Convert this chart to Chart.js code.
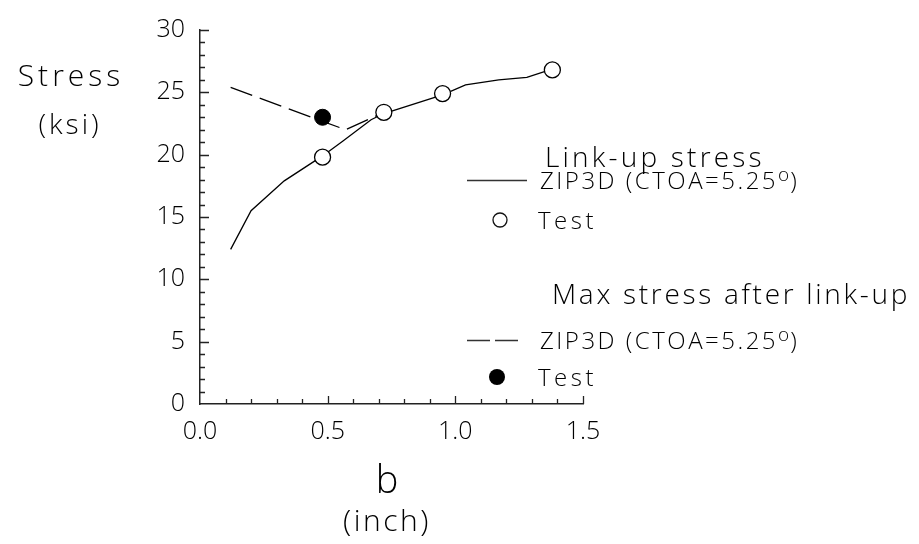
<!DOCTYPE html>
<html>
<head>
<meta charset="utf-8">
<script src="https://cdn.jsdelivr.net/npm/chart.js@4"></script>
<style>
html,body{margin:0;padding:0;background:#fff;}
#wrap{width:919px;height:544px;}
</style>
</head>
<body>
<div id="wrap"><canvas id="c" width="919" height="544"></canvas></div>
<script>
// ---- data ----
const zipLinkB      = [0.12, 0.20, 0.33, 0.48, 0.56, 0.67, 0.72, 0.95, 1.04, 1.17, 1.28, 1.40];
const zipLinkStress = [12.4, 15.5, 17.9, 19.9, 21.1, 22.8, 23.3, 24.8, 25.6, 26.0, 26.2, 27.0];
const testLinkB      = [0.48, 0.72, 0.95, 1.38];
const testLinkStress = [19.8, 23.4, 24.9, 26.8];
const zipMaxB      = [0.12, 0.33, 0.57, 0.70];
const zipMaxStress = [25.4, 23.8, 22.0, 23.2];
const testMaxB      = [0.48];
const testMaxStress = [23.0];
const xTicks = [0.0, 0.5, 1.0, 1.5];
const yTicks = [0, 5, 10, 15, 20, 25, 30];
const legendTitles = ['Link-up stress', 'Max stress after link-up'];
const legendModel = 'ZIP3D (CTOA=5.25';
const legendTest = 'Test';

const FONT = '"Open Sans", "Liberation Sans", Arial, sans-serif';
const WT = '300';
const INK = '#000';

function pts(xs, ys){ return xs.map((x,i)=>({x:x, y:ys[i]})); }

const overlay = {
  id: 'overlay',
  afterDraw(chart){
    const ctx = chart.ctx;
    const xs = chart.scales.x, ys = chart.scales.y;
    const L = chart.chartArea.left, B = chart.chartArea.bottom;
    ctx.save();
    // inward minor / major ticks
    ctx.strokeStyle = '#222';
    ctx.lineWidth = 1.3;
    ctx.beginPath();
    for (let v = 1; v <= 30; v++){
      const py = Math.round(ys.getPixelForValue(v)) + 0.5;
      const len = (v % 5 === 0) ? 9 : 5;
      ctx.moveTo(L, py); ctx.lineTo(L + len, py);
    }
    for (let i = 1; i <= 15; i++){
      const px = Math.round(xs.getPixelForValue(i/10)) + 0.5;
      const len = (i % 5 === 0) ? 8 : 5;
      ctx.moveTo(px, B); ctx.lineTo(px, B - len);
    }
    ctx.stroke();

    ctx.fillStyle = INK;
    ctx.textBaseline = 'alphabetic';
    function txt(s, x, y, size, spacing, align){
      ctx.font = WT + ' ' + size + 'px ' + FONT;
      ctx.letterSpacing = (spacing||0) + 'px';
      ctx.textAlign = align || 'left';
      ctx.fillText(s, x, y);
      const w = ctx.measureText(s).width;
      ctx.letterSpacing = '0px';
      return w;
    }
    // axis titles
    txt('Stress', 71, 86, 30, 4, 'center');
    txt('(ksi)', 70, 134, 28, 3, 'center');
    txt('b', 387, 493, 38, 0, 'center');
    txt('(inch)', 387, 531, 30, 2.5, 'center');

    // legend
    function modelLabel(x, y){
      let w = txt(legendModel, x, y, 24, 2.5, 'left');
      txt('o', x + w, y - 8, 19, 0, 'left');
      ctx.font = WT + ' 19px ' + FONT;
      const wo = ctx.measureText('o').width;
      txt(')', x + w + wo + 1, y, 24, 0, 'left');
    }
    txt(legendTitles[0], 545, 167, 28, 3.2, 'left');
    ctx.strokeStyle = '#333'; ctx.lineWidth = 1.5; ctx.setLineDash([]);
    ctx.beginPath(); ctx.moveTo(467, 180.5); ctx.lineTo(527, 180.5); ctx.stroke();
    modelLabel(540, 189);
    ctx.beginPath(); ctx.arc(500, 220, 7, 0, Math.PI*2);
    ctx.fillStyle = '#fff'; ctx.fill(); ctx.strokeStyle = '#111'; ctx.lineWidth = 1.3; ctx.stroke();
    ctx.fillStyle = INK;
    txt(legendTest, 538, 229, 24, 3.5, 'left');

    txt(legendTitles[1], 552, 304, 28, 2.7, 'left');
    ctx.strokeStyle = '#333'; ctx.lineWidth = 1.5; ctx.setLineDash([23, 5]);
    ctx.beginPath(); ctx.moveTo(467, 340.5); ctx.lineTo(518, 340.5); ctx.stroke();
    ctx.setLineDash([]);
    modelLabel(540, 349);
    ctx.beginPath(); ctx.arc(497, 377, 8, 0, Math.PI*2);
    ctx.fillStyle = '#000'; ctx.fill();
    ctx.fillStyle = INK;
    txt(legendTest, 538, 386, 24, 3.5, 'left');
    ctx.restore();
  }
};

new Chart(document.getElementById('c'), {
  type: 'scatter',
  data: {
    datasets: [
      { label: 'Test (max)', data: pts(testMaxB, testMaxStress), order: 0,
        pointRadius: 8, pointBackgroundColor: '#000', pointBorderColor: '#000', pointBorderWidth: 1, showLine: false },
      { label: 'Test (link-up)', data: pts(testLinkB, testLinkStress), order: 1,
        pointRadius: 8, pointBackgroundColor: '#fff', pointBorderColor: '#000', pointBorderWidth: 1.3, showLine: false },
      { label: 'ZIP3D link-up', data: pts(zipLinkB, zipLinkStress), order: 2,
        showLine: true, borderColor: '#000', borderWidth: 1.3, pointRadius: 0, fill: false, tension: 0 },
      { label: 'ZIP3D max', data: pts(zipMaxB, zipMaxStress), order: 3,
        showLine: true, borderColor: '#000', borderWidth: 1.3, borderDash: [23, 8], pointRadius: 0, fill: false, tension: 0 }
    ]
  },
  options: {
    responsive: false,
    animation: false,
    layout: { padding: { left: 0, top: 20, right: 336, bottom: 0 } },
    plugins: { legend: { display: false }, tooltip: { enabled: false } },
    scales: {
      x: {
        type: 'linear', min: 0, max: 1.5,
        afterFit(s){ s.height = 140; },
        afterBuildTicks(s){ s.ticks = xTicks.map(v => ({value: v})); },
        grid: { display: false, drawTicks: false },
        border: { display: true, color: '#222', width: 1.5 },
        ticks: { color: INK, font: { family: FONT, size: 25, weight: WT }, padding: 13,
                 callback: v => v.toFixed(1), maxRotation: 0, autoSkip: false }
      },
      y: {
        type: 'linear', min: 0, max: 30,
        afterFit(s){ s.width = 200; },
        afterBuildTicks(s){ s.ticks = yTicks.map(v => ({value: v})); },
        grid: { display: false, drawTicks: false },
        border: { display: true, color: '#222', width: 1.5 },
        ticks: { color: INK, font: { family: FONT, size: 25, weight: WT }, padding: 15, autoSkip: false }
      }
    }
  },
  plugins: [overlay]
});
</script>
</body>
</html>
